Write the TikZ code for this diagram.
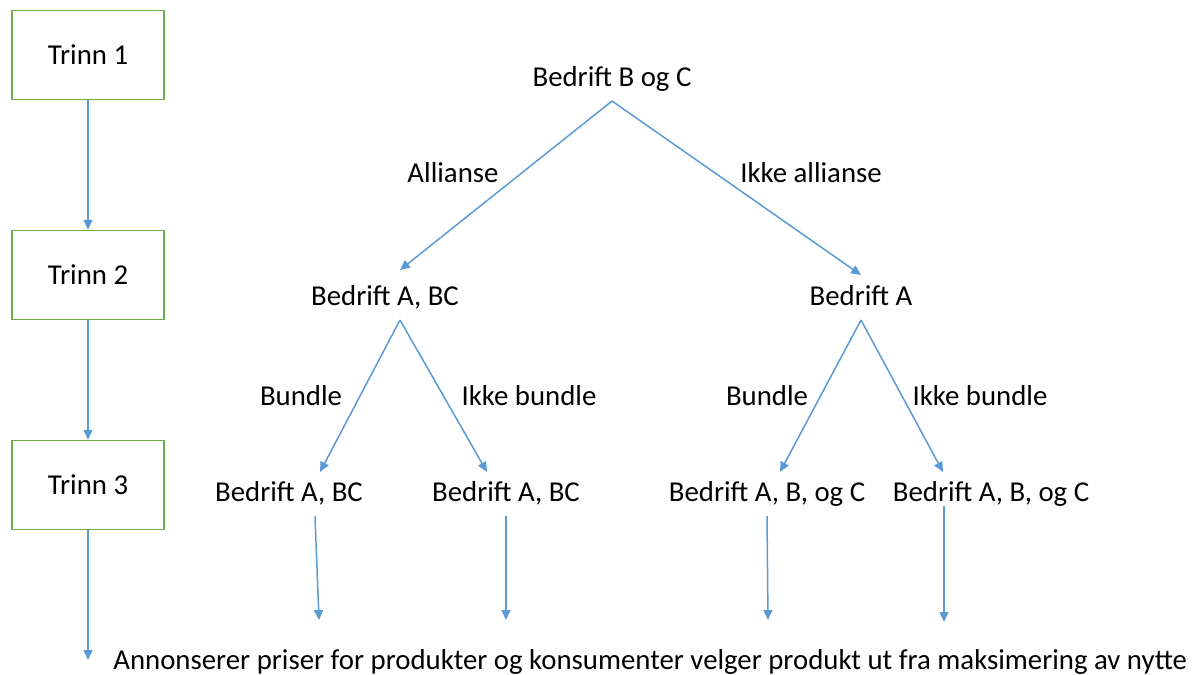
\documentclass[tikz,border=0pt]{standalone}
\usepackage{fontspec}
\setmainfont{Carlito}
\usetikzlibrary{arrows.meta}

\definecolor{linjeblaa}{HTML}{5B9BD5}
\definecolor{boksgroenn}{HTML}{70AD47}

\begin{document}
\begin{tikzpicture}[x=0.5pt,y=-0.5pt,
  every node/.style={font=\fontsize{14.4}{17}\selectfont},
  trinn/.style={draw=boksgroenn,line width=0.75pt,minimum width=76pt,minimum height=44.5pt},
  tekst/.style={inner sep=0pt,text height=10.5pt,text depth=3.5pt,outer ysep=4pt},
  pil/.style={draw=linjeblaa,line width=0.75pt,-{Triangle[length=5pt,width=4.5pt]}}]
  \useasboundingbox (0,0) rectangle (1195,675);

  % stages on the left
  \node[trinn] (t1) at (88,55) {Trinn 1};
  \node[trinn] (t2) at (88,275) {Trinn 2};
  \node[trinn] (t3) at (88,485) {Trinn 3};
  \coordinate (e0) at (88,660);

  \draw[pil] (t1) -- (t2);
  \draw[pil] (t2) -- (t3);
  \draw[pil] (t3) -- (e0);

  % the tree
  \node[tekst] (top) at (612,79) {Bedrift B og C};
  \node[tekst] (ab) at (385,298) {Bedrift A, BC};
  \node[tekst] (a) at (861,298) {Bedrift A};

  \node[tekst] (l1) at (289,494) {Bedrift A, BC};
  \node[tekst] (l2) at (506,494) {Bedrift A, BC};
  \node[tekst] (l3) at (767,494) {Bedrift A, B, og C};
  \node[tekst] (l4) at (991,494) {Bedrift A, B, og C};

  \draw[pil] (top.south) -- ([xshift=7.5pt,yshift=3pt]ab.north);
  \draw[pil] (top.south) -- ([yshift=0.5pt]a.north);

  \draw[pil] ([xshift=7.5pt]ab.south) -- ([xshift=15.5pt]l1.north);
  \draw[pil] ([xshift=7.5pt]ab.south) -- ([xshift=-9.5pt]l2.north);
  \draw[pil] (a.south) -- ([xshift=6.5pt]l3.north);
  \draw[pil] (a.south) -- ([xshift=-24pt]l4.north);

  % branch labels
  \node (allianse) at (453,173) {Allianse};
  \node (ikkeall) at (811,173) {Ikke allianse};
  \node (bundle1) at (301,396) {Bundle};
  \node (ikkeb1) at (529,396) {Ikke bundle};
  \node (bundle2) at (767,396) {Bundle};
  \node (ikkeb2) at (980,396) {Ikke bundle};

  % down to the last line
  \coordinate (e1) at (319,620);
  \coordinate (e2) at (506,620);
  \coordinate (e3) at (768,620);
  \coordinate (e4) at (944,622);

  \draw[pil] ([xshift=13pt]l1.south) -- (e1);
  \draw[pil] (l2.south) -- (e2);
  \draw[pil] (l3.south) -- (e3);
  \draw[pil] ([xshift=-23.5pt,yshift=5pt]l4.south) -- (e4);

  \node[tekst,anchor=west] (slutt) at (113,662) {Annonserer priser for produkter og konsumenter velger produkt ut fra maksimering av nytte};
\end{tikzpicture}
\end{document}
